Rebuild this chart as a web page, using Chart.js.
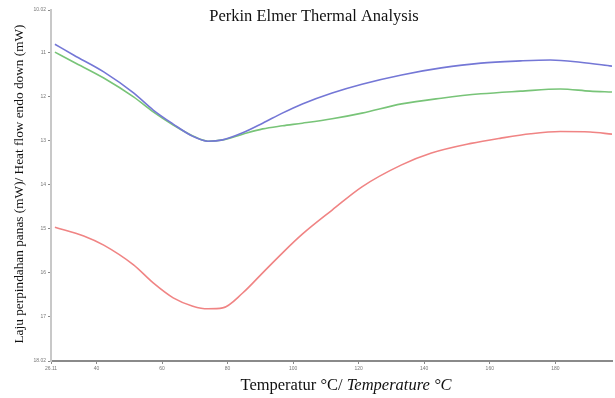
<!DOCTYPE html>
<html>
<head>
<meta charset="utf-8">
<script src="https://cdn.jsdelivr.net/npm/chart.js@4/dist/chart.umd.min.js"></script>
<style>
  body { margin: 0; background: #fff; }
  #wrap { width: 615px; height: 398px; }
</style>
</head>
<body>
<div id="wrap"><canvas id="dscChart" width="615" height="398"></canvas></div>
<script>
// ----------- data ------------------------//
const xTicks = [26.11, 40, 60, 80, 100, 120, 140, 160, 180];
const yTicks = [10.02, 11, 12, 13, 14, 15, 16, 17, 18.02];

const blueTemp = [27.3, 33.1, 42.2, 51.3, 57.3, 63.4, 69.4, 74.0, 78.5, 84.6, 90.7, 96.7, 102.8, 111.9, 121.0, 133.1, 145.2, 157.3, 169.4, 178.5, 187.6, 197.3];
const blueFlow = [10.80, 11.05, 11.43, 11.91, 12.30, 12.62, 12.90, 13.01, 12.98, 12.82, 12.60, 12.37, 12.16, 11.91, 11.71, 11.50, 11.34, 11.23, 11.18, 11.16, 11.21, 11.30];

const greenTemp = [27.3, 33.1, 42.2, 51.3, 57.3, 63.4, 69.4, 74.0, 78.5, 84.6, 90.7, 96.7, 102.8, 111.9, 121.0, 133.1, 145.2, 157.3, 169.4, 181.5, 190.6, 197.3];
const greenFlow = [10.98, 11.21, 11.57, 12.00, 12.34, 12.64, 12.89, 13.01, 12.98, 12.85, 12.73, 12.66, 12.60, 12.50, 12.37, 12.16, 12.03, 11.93, 11.87, 11.82, 11.87, 11.89];

const redTemp = [27.3, 36.1, 42.2, 51.3, 57.3, 63.4, 69.4, 74.0, 78.5, 84.6, 90.7, 96.7, 102.8, 111.9, 121.0, 133.1, 142.2, 154.3, 163.4, 172.5, 181.5, 190.6, 197.3];
const redFlow = [14.97, 15.17, 15.38, 15.83, 16.24, 16.58, 16.77, 16.83, 16.81, 16.47, 16.01, 15.56, 15.13, 14.58, 14.05, 13.55, 13.28, 13.06, 12.94, 12.84, 12.79, 12.80, 12.85];

const toPoints = (xs, ys) => xs.map((x, i) => ({ x: x, y: ys[i] }));

// title + axis titles drawn by hand (x title mixes upright and italic)
const textPlugin = {
  id: 'textPlugin',
  afterDraw(chart) {
    const { ctx } = chart;
    ctx.save();
    ctx.fillStyle = '#111';
    ctx.textBaseline = 'middle';

    ctx.font = '16.5px "Liberation Serif", serif';
    ctx.textAlign = 'center';
    ctx.fillText('Perkin Elmer Thermal Analysis', 314, 17);

    // x title
    const part1 = 'Temperatur °C/ ';
    const part2 = 'Temperature °C';
    ctx.font = '16.5px "Liberation Serif", serif';
    const w1 = ctx.measureText(part1).width;
    ctx.font = 'italic 16.5px "Liberation Serif", serif';
    const w2 = ctx.measureText(part2).width;
    let x0 = 346 - (w1 + w2) / 2;
    ctx.textAlign = 'left';
    ctx.font = '16.5px "Liberation Serif", serif';
    ctx.fillText(part1, x0, 386);
    ctx.font = 'italic 16.5px "Liberation Serif", serif';
    ctx.fillText(part2, x0 + w1, 386);

    // y title
    ctx.translate(20, 184);
    ctx.rotate(-Math.PI / 2);
    ctx.textAlign = 'center';
    ctx.font = '13.3px "Liberation Serif", serif';
    ctx.fillText('Laju perpindahan panas (mW)/ Heat flow endo down (mW)', 0, 0);
    ctx.restore();
  }
};

const lineStyle = (color) => ({
  borderColor: color,
  backgroundColor: color,
  borderWidth: 1.6,
  pointRadius: 0,
  cubicInterpolationMode: 'monotone',
  fill: false
});

const ctx = document.getElementById('dscChart').getContext('2d');

new Chart(ctx, {
  type: 'line',
  data: {
    datasets: [
      { label: 'Blue', data: toPoints(blueTemp, blueFlow), ...lineStyle('#7477d6') },
      { label: 'Green', data: toPoints(greenTemp, greenFlow), ...lineStyle('#78c478') },
      { label: 'Red', data: toPoints(redTemp, redFlow), ...lineStyle('#f08484') }
    ]
  },
  options: {
    responsive: false,
    animation: false,
    layout: { padding: { top: 10, right: 3, left: 0, bottom: 0 } },
    plugins: {
      legend: { display: false },
      tooltip: { enabled: false }
    },
    scales: {
      x: {
        type: 'linear',
        min: 26.11,
        max: 197.3,
        afterBuildTicks: (axis) => { axis.ticks = xTicks.map(v => ({ value: v })); },
        afterFit: (axis) => { axis.height = 37; },
        ticks: {
          color: '#777',
          font: { size: 5 },
          padding: 2,
          maxRotation: 0,
          autoSkip: false,
          callback: (v) => String(v)
        },
        grid: { drawOnChartArea: false, tickLength: 3, color: '#888' },
        border: { color: '#8a8a8a', width: 2 }
      },
      y: {
        reverse: true,
        min: 10.02,
        max: 18.02,
        afterBuildTicks: (axis) => { axis.ticks = yTicks.map(v => ({ value: v })); },
        afterFit: (axis) => { axis.width = 51; },
        ticks: {
          color: '#777',
          font: { size: 5 },
          padding: 2,
          autoSkip: false,
          callback: (v) => String(v)
        },
        grid: { drawOnChartArea: false, tickLength: 3, color: '#888' },
        border: { color: '#c8c8c8', width: 2 }
      }
    }
  },
  plugins: [textPlugin]
});
</script>
</body>
</html>
